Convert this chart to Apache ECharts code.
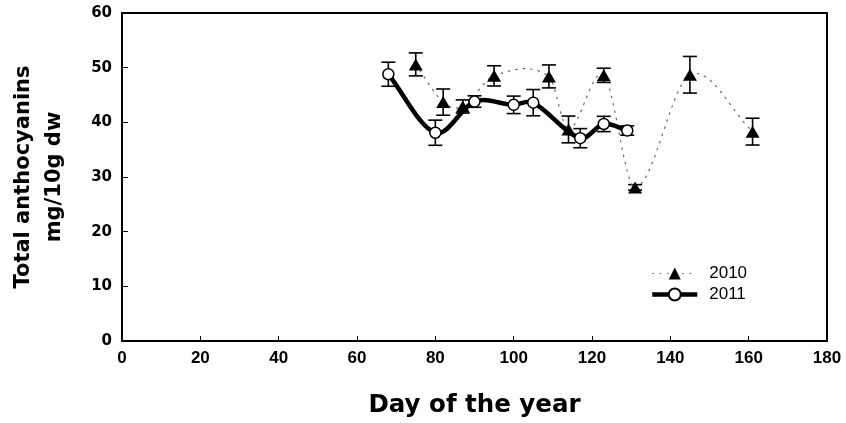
<!DOCTYPE html>
<html>
<head>
<meta charset="utf-8">
<script src="https://cdn.jsdelivr.net/npm/echarts@6/dist/echarts.min.js"></script>
<style>html,body{margin:0;padding:0;background:#fff;}#c{width:846px;height:423px;}</style>
</head>
<body>
<div id="c"></div>
<script>
// ---- data ----
var days2010 = [75, 82, 87, 95, 109, 114, 123, 131, 145, 161];
var vals2010 = [50.6, 43.7, 42.9, 48.5, 48.4, 38.7, 48.6, 28.1, 48.7, 38.3];
var err2010  = [2.1, 2.4, 1.2, 1.85, 2.1, 2.45, 1.3, 0.5, 3.35, 2.45];

var days2011 = [68, 80, 90, 100, 105, 117, 123, 129];
var vals2011 = [48.8, 38.1, 43.8, 43.2, 43.6, 37.1, 39.7, 38.5];
var err2011  = [2.2, 2.3, 1.05, 1.6, 2.4, 1.75, 1.4, 0.85];

var xTicks = [0, 20, 40, 60, 80, 100, 120, 140, 160, 180];
var yTicks = [0, 10, 20, 30, 40, 50, 60];
var seriesNames = ['2010', '2011'];

function pts(d, v) { return d.map(function (x, i) { return [x, v[i]]; }); }
function errPts(d, v, e) { return d.map(function (x, i) { return [x, v[i], e[i]]; }); }

// Catmull-Rom style tangents (non-uniform x), secant at the ends
function tangents(x, y) {
  var n = x.length, t = [];
  for (var i = 0; i < n; i++) {
    if (i === 0) t.push((y[1] - y[0]) / (x[1] - x[0]));
    else if (i === n - 1) t.push((y[n - 1] - y[n - 2]) / (x[n - 1] - x[n - 2]));
    else t.push((y[i + 1] - y[i - 1]) / (x[i + 1] - x[i - 1]));
  }
  return t;
}

function makeCurveRenderer(x, y, style) {
  var tg = tangents(x, y);
  return function (params, api) {
    if (params.dataIndex !== 0) return null;
    var children = [];
    for (var i = 0; i < x.length - 1; i++) {
      var h = x[i + 1] - x[i];
      var p0 = api.coord([x[i], y[i]]);
      var p1 = api.coord([x[i] + h / 3, y[i] + h / 3 * tg[i]]);
      var p2 = api.coord([x[i + 1] - h / 3, y[i + 1] - h / 3 * tg[i + 1]]);
      var p3 = api.coord([x[i + 1], y[i + 1]]);
      children.push({
        type: 'bezierCurve',
        shape: { x1: p0[0], y1: p0[1], cpx1: p1[0], cpy1: p1[1], cpx2: p2[0], cpy2: p2[1], x2: p3[0], y2: p3[1] },
        style: Object.assign({ fill: null }, style)
      });
    }
    return { type: 'group', children: children };
  };
}

function renderErr(params, api) {
  var x = api.value(0), y = api.value(1), e = api.value(2);
  var top = api.coord([x, y + e]);
  var bot = api.coord([x, y - e]);
  var hw = 7;
  var st = { stroke: '#000', lineWidth: 1.6 };
  return {
    type: 'group',
    children: [
      { type: 'line', shape: { x1: top[0], y1: top[1], x2: bot[0], y2: bot[1] }, style: st },
      { type: 'line', shape: { x1: top[0] - hw, y1: top[1], x2: top[0] + hw, y2: top[1] }, style: st },
      { type: 'line', shape: { x1: bot[0] - hw, y1: bot[1], x2: bot[0] + hw, y2: bot[1] }, style: st }
    ]
  };
}

var style2010 = { stroke: '#666', lineWidth: 1.2, lineDash: [1.5, 6], lineCap: 'round' };
var style2011 = { stroke: '#000', lineWidth: 4.5, lineCap: 'round', lineJoin: 'round' };

var chart = echarts.init(document.getElementById('c'), null, { renderer: 'canvas' });
chart.setOption({
  animation: false,
  backgroundColor: '#fff',
  grid: { left: 122, right: 19, top: 13, bottom: 81, show: true, borderColor: '#000', borderWidth: 2, backgroundColor: 'transparent' },
  legend: {
    orient: 'vertical', left: 650, top: 265, padding: 0, itemWidth: 45, itemHeight: 15, itemGap: 4,
    data: [
      { name: seriesNames[0], lineStyle: { color: '#666', width: 1.2, type: [1.5, 6], opacity: 1 } },
      { name: seriesNames[1], lineStyle: { color: '#000', width: 4.5, type: 'solid', opacity: 1 } }
    ],
    textStyle: { fontFamily: 'Liberation Sans', fontSize: 17, color: '#000', padding: [0, 0, 0, 7] }
  },
  xAxis: {
    type: 'value', min: xTicks[0], max: xTicks[xTicks.length - 1], interval: 20,
    axisLine: { lineStyle: { color: '#000', width: 2 } },
    axisTick: { inside: true, length: 5, lineStyle: { color: '#000', width: 1 } },
    axisLabel: { margin: 9, fontFamily: 'Liberation Sans', fontWeight: 'bold', fontSize: 17, color: '#000' },
    splitLine: { show: false },
    name: 'Day of the year', nameLocation: 'middle', nameGap: 52,
    nameTextStyle: { fontFamily: 'DejaVu Sans', fontWeight: 'bold', fontSize: 24.5, color: '#000' }
  },
  yAxis: {
    type: 'value', min: yTicks[0], max: yTicks[yTicks.length - 1], interval: 10,
    axisLine: { show: true, lineStyle: { color: '#000', width: 2 } },
    axisTick: { show: true, inside: true, length: 6, lineStyle: { color: '#000', width: 1 } },
    axisLabel: { margin: 10, fontFamily: 'DejaVu Sans', fontWeight: 'bold', fontSize: 15, color: '#000' },
    splitLine: { show: false },
    name: 'Total anthocyanins\nmg/10g dw', nameLocation: 'middle', nameRotate: 90, nameGap: 52,
    nameTextStyle: { fontFamily: 'DejaVu Sans', fontWeight: 'bold', fontSize: 21, lineHeight: 31, color: '#000', align: 'center' }
  },
  series: [
    {
      name: '2010-err', type: 'custom', z: 1, silent: true,
      data: errPts(days2010, vals2010, err2010), renderItem: renderErr
    },
    {
      name: '2011-err', type: 'custom', z: 1, silent: true,
      data: errPts(days2011, vals2011, err2011), renderItem: renderErr
    },
    {
      name: '2010-curve', type: 'custom', z: 2, silent: true,
      data: pts(days2010, vals2010), renderItem: makeCurveRenderer(days2010, vals2010, style2010)
    },
    {
      name: '2011-curve', type: 'custom', z: 2, silent: true,
      data: pts(days2011, vals2011), renderItem: makeCurveRenderer(days2011, vals2011, style2011)
    },
    {
      name: seriesNames[0], type: 'line', z: 3,
      data: pts(days2010, vals2010),
      symbol: 'triangle', symbolSize: [14, 12],
      itemStyle: { color: '#000', borderWidth: 0 },
      lineStyle: { color: '#666', width: 1.2, type: [1.5, 6], opacity: 0 }
    },
    {
      name: seriesNames[1], type: 'line', z: 4,
      data: pts(days2011, vals2011),
      symbol: 'circle', symbolSize: 11,
      itemStyle: { color: '#fff', borderColor: '#000', borderWidth: 1.5 },
      lineStyle: { color: '#000', width: 4.5, opacity: 0 }
    }
  ]
});
</script>
</body>
</html>
